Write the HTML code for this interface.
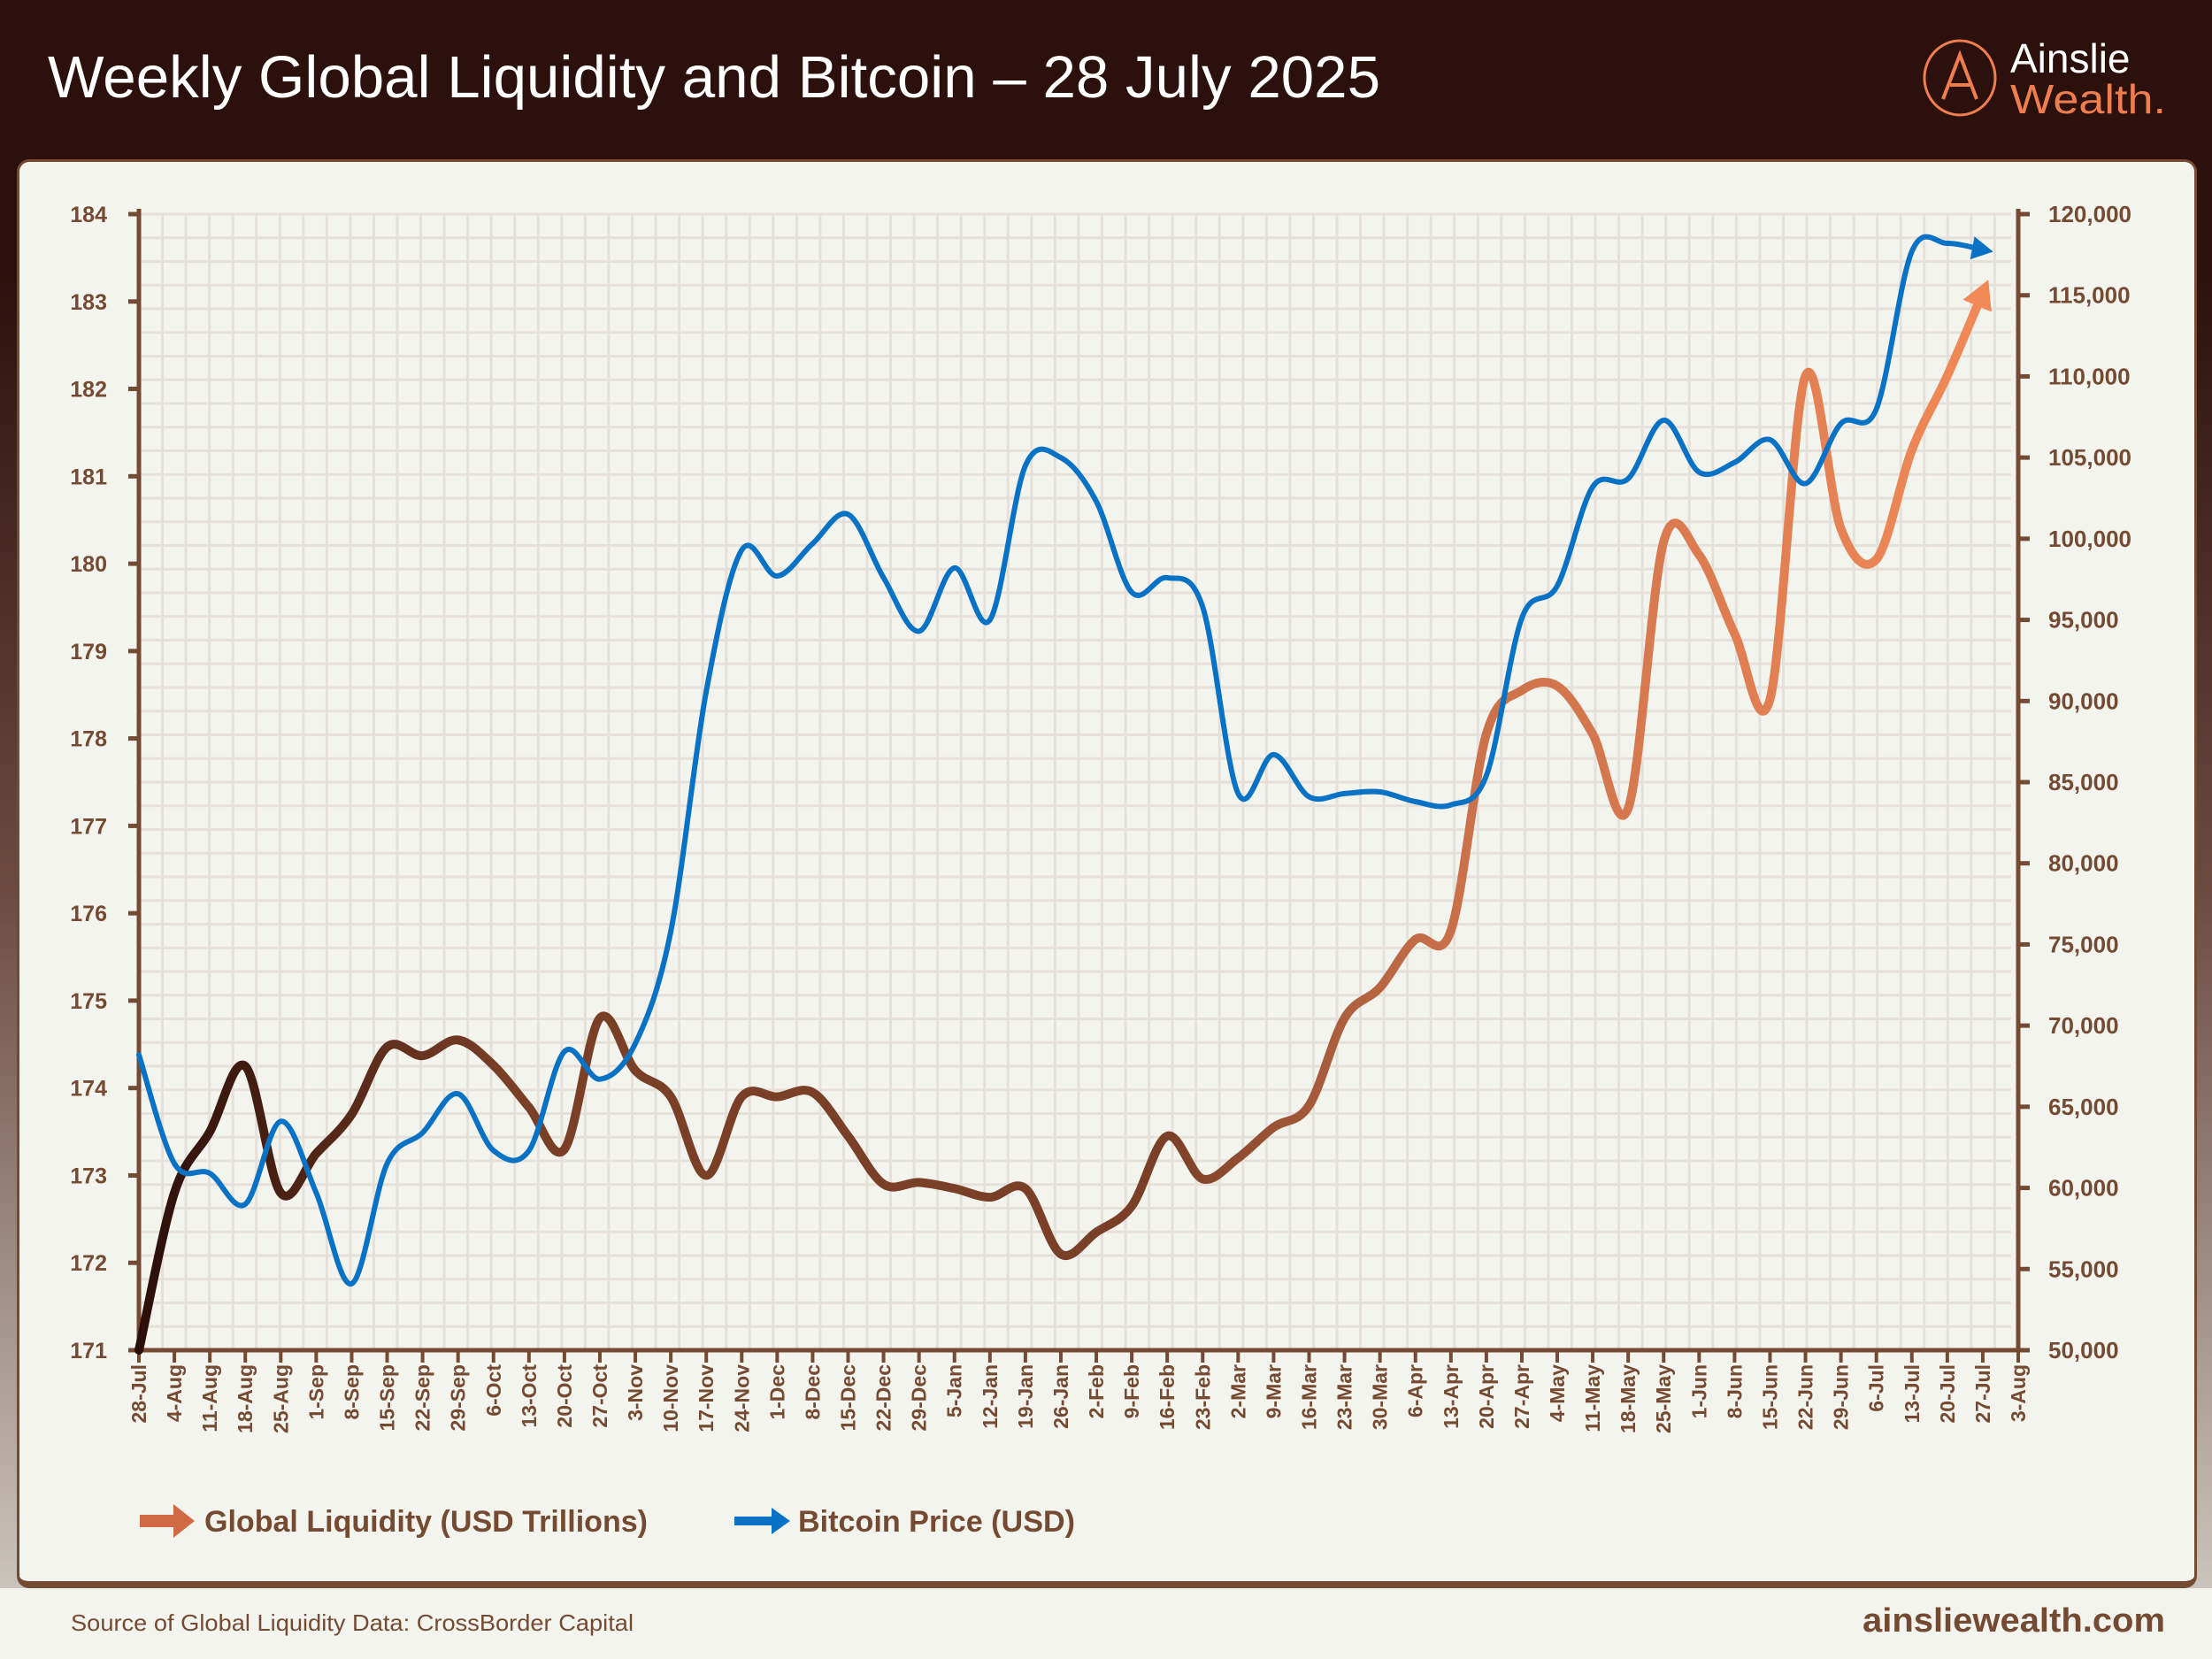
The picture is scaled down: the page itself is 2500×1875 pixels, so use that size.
<!DOCTYPE html>
<html><head><meta charset="utf-8"><style>
html,body{margin:0;padding:0;width:2500px;height:1875px;overflow:hidden;background:#f4f4ef}
#bg{position:absolute;left:0;top:0;width:2500px;height:1800px;background:linear-gradient(#2b100b 0px,#2b100b 300px,#6b4a40 1000px,#c9c3bb 1790px)}
#footer{position:absolute;left:0;top:1795px;width:2500px;height:80px;background:#f4f4ef}
#panel{position:absolute;left:19px;top:180px;width:2458px;height:1604px;background:#f4f4ef;border:3px solid #744a32;border-bottom:8px solid #744a32;border-radius:14px;box-sizing:content-box}
svg text{font-family:"Liberation Sans",sans-serif}
</style></head><body>
<div id="bg"></div>
<div id="footer"></div>
<div id="panel"></div>
<svg id="chart" width="2500" height="1875" style="position:absolute;left:0;top:0">
<defs>
<linearGradient id="liqGrad" x1="155" y1="0" x2="2260" y2="0" gradientUnits="userSpaceOnUse">
<stop offset="0" stop-color="#2a0e08"/><stop offset="0.2" stop-color="#7a3f27"/><stop offset="0.55" stop-color="#7a3f27"/><stop offset="0.7" stop-color="#c8704a"/><stop offset="1" stop-color="#f28a58"/>
</linearGradient>
</defs>
<text x="54" y="110" font-size="67" fill="#ffffff" textLength="1506" lengthAdjust="spacingAndGlyphs">Weekly Global Liquidity and Bitcoin – 28 July 2025</text>
<g>
<ellipse cx="2215" cy="88" rx="40" ry="42" fill="none" stroke="#ef7e4f" stroke-width="3"/>
<path d="M2196 112 L2215 62 L2234 112 M2204 96 L2226 96" fill="none" stroke="#ef7e4f" stroke-width="4"/>
<text x="2272" y="82" font-size="46" fill="#ffffff">Ainslie</text>
<text x="2272" y="128" font-size="46" fill="#ef7e4f" textLength="176" lengthAdjust="spacingAndGlyphs">Wealth.</text>
</g>
<g id="grid"></g>
<g id="axes"></g>
<g id="series"></g>
<g>
<path d="M158 1712 L196 1712 L196 1700 L220 1719 L196 1738 L196 1726 L158 1726 Z" fill="#d06a44"/>
<text x="231" y="1731" font-size="34" font-weight="bold" fill="#744a32" textLength="501" lengthAdjust="spacingAndGlyphs">Global Liquidity (USD Trillions)</text>
<path d="M830 1714 L872 1714 L872 1704 L893 1719 L872 1734 L872 1724 L830 1724 Z" fill="#0a72c4"/>
<text x="902" y="1731" font-size="34" font-weight="bold" fill="#744a32" textLength="313" lengthAdjust="spacingAndGlyphs">Bitcoin Price (USD)</text>
</g>
<text x="80" y="1843" font-size="26" fill="#744a32" textLength="636" lengthAdjust="spacingAndGlyphs">Source of Global Liquidity Data: CrossBorder Capital</text>
<text x="2447" y="1844" font-size="38" font-weight="bold" fill="#744a32" text-anchor="end" textLength="342" lengthAdjust="spacingAndGlyphs">ainsliewealth.com</text>
</svg>
<script>
const weekLabels=["28-Jul","4-Aug","11-Aug","18-Aug","25-Aug","1-Sep","8-Sep","15-Sep","22-Sep","29-Sep","6-Oct","13-Oct","20-Oct","27-Oct","3-Nov","10-Nov","17-Nov","24-Nov","1-Dec","8-Dec","15-Dec","22-Dec","29-Dec","5-Jan","12-Jan","19-Jan","26-Jan","2-Feb","9-Feb","16-Feb","23-Feb","2-Mar","9-Mar","16-Mar","23-Mar","30-Mar","6-Apr","13-Apr","20-Apr","27-Apr","4-May","11-May","18-May","25-May","1-Jun","8-Jun","15-Jun","22-Jun","29-Jun","6-Jul","13-Jul","20-Jul","27-Jul","3-Aug"];
const liquidity=[171.0,172.8,173.5,174.25,172.8,173.25,173.7,174.47,174.37,174.55,174.26,173.78,173.3,174.8,174.2,173.9,173.0,173.9,173.9,173.95,173.45,172.9,172.92,172.85,172.75,172.85,172.1,172.35,172.65,173.45,172.96,173.2,173.55,173.8,174.8,175.15,175.7,175.8,178.05,178.55,178.6,178.05,177.2,180.25,180.1,179.2,178.45,182.15,180.4,180.05,181.3,182.15,183.1];
const bitcoin=[68.2,61.5,60.9,59.0,64.1,59.7,54.1,61.5,63.4,65.8,62.3,62.3,68.4,66.7,68.9,75.8,90.6,99.3,97.7,99.7,101.5,97.6,94.3,98.2,95.0,104.5,105.0,102.3,96.7,97.6,95.8,84.3,86.7,84.1,84.3,84.4,83.8,83.6,85.4,95.1,97.1,103.2,103.7,107.3,104.1,104.7,106.1,103.4,107.1,108.0,117.7,118.2,117.8];
const leftTicks=[171,172,173,174,175,176,177,178,179,180,181,182,183,184];
const rightTicks=[50000,55000,60000,65000,70000,75000,80000,85000,90000,95000,100000,105000,110000,115000,120000];

const NS="http://www.w3.org/2000/svg";
const X0=157,X1=2281,Y0=1526,Y1=242;
const xS=i=>X0+(X1-X0)*i/(weekLabels.length-1);
const yL=v=>Y0-(v-171)/(184-171)*(Y0-Y1);
const yR=v=>Y0-(v-50000)/(120000-50000)*(Y0-Y1);
function mk(tag,attrs,parent){const e=document.createElementNS(NS,tag);for(const k in attrs)e.setAttribute(k,attrs[k]);parent.appendChild(e);return e;}
const grid=document.getElementById('grid'),axes=document.getElementById('axes'),series=document.getElementById('series');
for(let x=X0+26.5;x<X1-5;x+=26.55){mk('line',{x1:x,y1:Y1,x2:x,y2:Y0,stroke:'#e6e0da','stroke-width':3},grid);}
for(let y=Y0-26.75;y>Y1-2;y-=26.75){mk('line',{x1:X0,y1:y,x2:X1-8,y2:y,stroke:'#e6e0da','stroke-width':3},grid);}
const ac='#744a32';
let e;
e=mk('line',{x1:X0,y1:Y1-6,x2:X0,y2:Y0,stroke:ac,'stroke-width':5},axes);

e=mk('line',{x1:X1,y1:Y1-6,x2:X1,y2:Y0,stroke:ac,'stroke-width':5},axes);

e=mk('line',{x1:X0-12,y1:Y0,x2:X1,y2:Y0,stroke:ac,'stroke-width':5},axes);

leftTicks.forEach(v=>{const y=yL(v);mk('line',{x1:X0-12,y1:y,x2:X0,y2:y,stroke:ac,'stroke-width':5},axes);
 const t=mk('text',{x:X0-36,y:y+9,'font-size':25,'font-weight':'bold',fill:ac,'text-anchor':'end'},axes);t.textContent=v;
 });
rightTicks.forEach(v=>{const y=yR(v);mk('line',{x1:X1,y1:y,x2:X1+13,y2:y,stroke:ac,'stroke-width':5},axes);
 const t=mk('text',{x:X1+34,y:y+9,'font-size':26,'font-weight':'bold',fill:ac},axes);t.textContent=v.toLocaleString('en-US');
 });
weekLabels.forEach((l,i)=>{const x=xS(i);mk('line',{x1:x,y1:Y0,x2:x,y2:Y0+14,stroke:ac,'stroke-width':4},axes);
 const t=mk('text',{transform:`translate(${x+8},${Y0+16}) rotate(-90)`,'font-size':23,'font-weight':'bold',fill:ac,'text-anchor':'end'},axes);t.textContent=l;
 });
function smooth(pts){let d=`M${pts[0][0]},${pts[0][1]}`;for(let i=0;i<pts.length-1;i++){const p0=pts[Math.max(0,i-1)],p1=pts[i],p2=pts[i+1],p3=pts[Math.min(pts.length-1,i+2)];
 const c1=[p1[0]+(p2[0]-p0[0])/6,p1[1]+(p2[1]-p0[1])/6],c2=[p2[0]-(p3[0]-p1[0])/6,p2[1]-(p3[1]-p1[1])/6];
 d+=` C${c1[0]},${c1[1]} ${c2[0]},${c2[1]} ${p2[0]},${p2[1]}`;}return d;}
function arrow(pts,color,name,size){const n=pts.length,a=pts[n-2],b=pts[n-1];const ang=Math.atan2(b[1]-a[1],b[0]-a[0]);
 const tip=[b[0]+Math.cos(ang)*size*0.5,b[1]+Math.sin(ang)*size*0.5];
 const l=[tip[0]-Math.cos(ang)*size+Math.cos(ang+Math.PI/2)*size*0.55,tip[1]-Math.sin(ang)*size+Math.sin(ang+Math.PI/2)*size*0.55];
 const r=[tip[0]-Math.cos(ang)*size-Math.cos(ang+Math.PI/2)*size*0.55,tip[1]-Math.sin(ang)*size-Math.sin(ang+Math.PI/2)*size*0.55];
 const p=mk('polygon',{points:`${tip} ${l} ${r}`,fill:color},series);
 }
const lp=liquidity.map((v,i)=>[xS(i),yL(v)]);
const bp=bitcoin.map((v,i)=>[xS(i),yR(v*1000)]);
const lPath=mk('path',{d:smooth(lp),fill:'none',stroke:'url(#liqGrad)','stroke-width':10,'stroke-linecap':'round','stroke-linejoin':'round'},series);


arrow(lp,'#f28a58','liquidity-arrowhead',32);
const bPath=mk('path',{d:smooth(bp),fill:'none',stroke:'#0a72c4','stroke-width':6,'stroke-linecap':'round','stroke-linejoin':'round'},series);


arrow(bp,'#0a72c4','bitcoin-arrowhead',24);
</script>
</body></html>
